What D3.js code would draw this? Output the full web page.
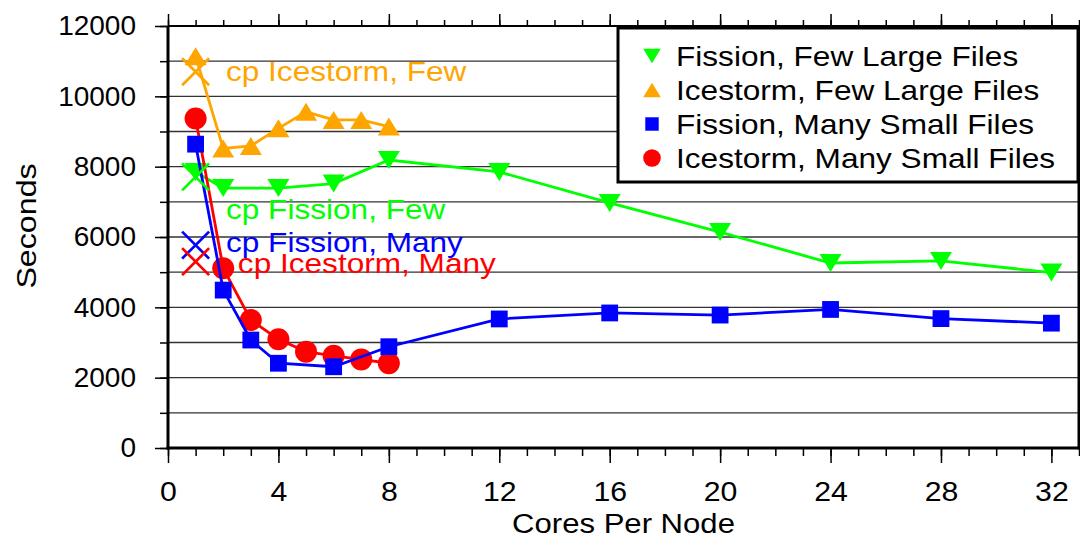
<!DOCTYPE html>
<html>
  <head>
    <title>Cores Per Node</title>
    <script src="https://cdn.jsdelivr.net/npm/d3@7"></script>
    <style type="text/css">
      body {
        margin: 0;
        background: #fff;
      }
      text {
        font-family: "Liberation Sans", Arial, Helvetica, sans-serif;
        fill: #000;
      }
      .grid line {
        stroke: #333;
        stroke-width: 1.4px;
      }
      .axis path {
        display: none;
      }
      .axis line {
        stroke: #000;
        stroke-width: 1.5px;
      }
      .frame {
        stroke: #000;
        fill: none;
      }
      .series path.line {
        fill: none;
        stroke-width: 2.8px;
      }
    </style>
  </head>
<body>
  <div id="chart"></div>
  <script type="text/javascript">
    // measured series (cores per node -> seconds)
    var fissionFewX = [1, 2, 4, 6, 8, 12, 16, 20, 24, 28, 32];
    var fissionFew = [7850, 7390, 7390, 7520, 8190, 7850, 6970, 6140, 5260, 5320, 4990];

    var icestormFewX = [1, 2, 3, 4, 5, 6, 7, 8];
    var icestormFew = [11140, 8520, 8590, 9090, 9560, 9330, 9330, 9140];

    var fissionManyX = [1, 2, 3, 4, 6, 8, 12, 16, 20, 24, 28, 32];
    var fissionMany = [8640, 4490, 3070, 2410, 2310, 2880, 3670, 3840, 3780, 3940, 3680, 3550];

    var icestormManyX = [1, 2, 3, 4, 5, 6, 7, 8];
    var icestormMany = [9370, 5110, 3640, 3090, 2740, 2620, 2520, 2410];

    var seriesNames = ["Fission, Few Large Files", "Icestorm, Few Large Files", "Fission, Many Small Files", "Icestorm, Many Small Files"];
    var seriesColors = ["#00ff00", "#ffa500", "#0000ff", "#ff0000"];
    var seriesSymbols = ["down", "up", "square", "circle"];

    // single cp runs, drawn as crosses at 1 core
    var cpNames = ["cp Icestorm, Few", "cp Fission, Few", "cp Fission, Many", "cp Icestorm, Many"];
    var cpColors = ["#ffa500", "#00ff00", "#0000ff", "#ff0000"];
    var cpX = [1, 1, 1, 1];
    var cpValues = [10700, 7710, 5770, 5300];
    var cpLabelX = [2.1, 2.1, 2.1, 2.53];
    var cpLabelY = [10720, 6800, 5840, 5250];

    var xTicks = [0, 4, 8, 12, 16, 20, 24, 28, 32];
    var yTicks = [0, 2000, 4000, 6000, 8000, 10000, 12000];

    var width = 1080, height = 538;

    var svg = d3.select("#chart").append("svg")
      .attr("width", width)
      .attr("height", height);

    var x = d3.scaleLinear().domain([0, 33]).range([168, 1079]);
    var y = d3.scaleLinear().domain([0, 12000]).range([448, 26]);

    // horizontal grid every 1000
    svg.append("g").attr("class", "grid")
      .selectAll("line").data(d3.range(1000, 12000, 1000))
      .enter().append("line")
      .attr("x1", x(0)).attr("x2", x(33))
      .attr("y1", function (d) { return y(d); })
      .attr("y2", function (d) { return y(d); });

    // axes: major + minor ticks
    var xMinor = d3.range(0, 34, 1);
    var yMinor = d3.range(0, 12001, 1000);

    svg.append("g").attr("class", "axis")
      .attr("transform", "translate(0," + y(0) + ")")
      .call(d3.axisBottom(x).tickValues(xMinor).tickSize(8).tickFormat(""));
    var xAxis = svg.append("g").attr("class", "axis")
      .attr("transform", "translate(0," + y(0) + ")")
      .call(d3.axisBottom(x).tickValues(xTicks).tickSize(15).tickPadding(18).tickFormat(d3.format("d")));
    xAxis.selectAll("text")
      .style("font-size", "28px")
      .attr("dy", "0.71em")
      .attr("transform", "scale(1.08,1)");

    svg.append("g").attr("class", "axis")
      .attr("transform", "translate(0," + y(12000) + ")")
      .call(d3.axisTop(x).tickValues(xMinor).tickSize(6).tickFormat(""));
    svg.append("g").attr("class", "axis")
      .attr("transform", "translate(0," + y(12000) + ")")
      .call(d3.axisTop(x).tickValues(xTicks).tickSize(12).tickFormat(""));

    svg.append("g").attr("class", "axis")
      .attr("transform", "translate(" + x(0) + ",0)")
      .call(d3.axisLeft(y).tickValues(yMinor).tickSize(8).tickFormat(""));
    var yAxis = svg.append("g").attr("class", "axis")
      .attr("transform", "translate(" + x(0) + ",0)")
      .call(d3.axisLeft(y).tickValues(yTicks).tickSize(13).tickPadding(19).tickFormat(d3.format("d")));
    yAxis.selectAll("text").style("font-size", "28px");

    // frame
    svg.append("line").attr("class", "frame").style("stroke-width", 3)
      .attr("x1", x(0)).attr("x2", x(0)).attr("y1", y(12000)).attr("y2", y(0) + 1.5);
    svg.append("line").attr("class", "frame").style("stroke-width", 3)
      .attr("x1", x(0) - 1.5).attr("x2", x(33) + 1.5).attr("y1", y(0)).attr("y2", y(0));
    svg.append("line").attr("class", "frame").style("stroke-width", 3)
      .attr("x1", x(33)).attr("x2", x(33)).attr("y1", y(12000)).attr("y2", y(0) + 1.5);
    svg.append("line").attr("class", "frame").style("stroke-width", 2)
      .attr("x1", x(0)).attr("x2", x(33)).attr("y1", y(12000)).attr("y2", y(12000));

    // axis titles
    svg.append("text")
      .attr("transform", "translate(" + ((x(0) + x(33)) / 2) + ",533) scale(1.11,1)")
      .attr("text-anchor", "middle")
      .style("font-size", "28px")
      .text("Cores Per Node");
    svg.append("text")
      .attr("transform", "translate(36,226) rotate(-90) scale(1.15,1)")
      .attr("text-anchor", "middle")
      .style("font-size", "28px")
      .text("Seconds");

    function markerPath(type, s) {
      var w = s * 1.1, h = s * 0.9;
      if (type === "down") return "M" + (-w / 2) + "," + (-h / 2) + "L" + (w / 2) + "," + (-h / 2) + "L0," + (h / 2) + "Z";
      if (type === "up") return "M" + (-w / 2) + "," + (h / 2) + "L" + (w / 2) + "," + (h / 2) + "L0," + (-h / 2) + "Z";
      if (type === "square") return "M" + (-s * 0.42) + "," + (-s * 0.42) + "h" + (s * 0.84) + "v" + (s * 0.84) + "h" + (-s * 0.84) + "Z";
      var r = s * 0.55;
      return "M" + r + ",0A" + r + "," + r + " 0 1,1 " + (-r) + ",0A" + r + "," + r + " 0 1,1 " + r + ",0Z";
    }

    var seriesX = [fissionFewX, icestormFewX, fissionManyX, icestormManyX];
    var seriesY = [fissionFew, icestormFew, fissionMany, icestormMany];
    // blue ends up on top of red in the original
    var drawOrder = [0, 1, 3, 2];

    var line = d3.line()
      .x(function (d) { return x(d[0]); })
      .y(function (d) { return y(d[1]); });

    drawOrder.forEach(function (i) {
      var pts = d3.zip(seriesX[i], seriesY[i]);
      var g = svg.append("g").attr("class", "series");
      g.append("path").attr("class", "line")
        .attr("d", line(pts))
        .style("stroke", seriesColors[i]);
      g.selectAll("path.pt").data(pts).enter().append("path")
        .attr("class", "pt")
        .attr("transform", function (d) { return "translate(" + x(d[0]) + "," + y(d[1]) + ")"; })
        .attr("d", markerPath(seriesSymbols[i], 20))
        .style("fill", seriesColors[i]);
    });

    // cp crosses and labels
    var cp = svg.append("g");
    cpNames.forEach(function (name, i) {
      var cx = x(cpX[i]), cy = y(cpValues[i]), r = 13.5;
      cp.append("path")
        .attr("d", "M" + (cx - r) + "," + (cy - r) + "L" + (cx + r) + "," + (cy + r) +
          "M" + (cx - r) + "," + (cy + r) + "L" + (cx + r) + "," + (cy - r))
        .style("stroke", cpColors[i])
        .style("stroke-width", 2.7)
        .style("fill", "none");
      cp.append("text")
        .attr("transform", "translate(" + x(cpLabelX[i]) + "," + y(cpLabelY[i]) + ") scale(1.17,1)")
        .attr("dy", "0.36em")
        .style("font-size", "27px")
        .style("fill", cpColors[i])
        .text(name);
    });

    // legend
    var legend = svg.append("g");
    legend.append("rect")
      .attr("x", 618).attr("y", 28)
      .attr("width", 460).attr("height", 154)
      .style("fill", "#fff")
      .style("stroke", "#000")
      .style("stroke-width", 3);
    var rows = legend.selectAll("g.row").data(seriesNames).enter().append("g")
      .attr("class", "row")
      .attr("transform", function (d, i) { return "translate(652," + (56 + i * 34) + ")"; });
    rows.append("path")
      .attr("d", function (d, i) { return markerPath(seriesSymbols[i], 16); })
      .style("fill", function (d, i) { return seriesColors[i]; });
    rows.append("text")
      .attr("transform", "translate(24,0) scale(1.17,1)")
      .attr("dy", "0.36em")
      .style("font-size", "27px")
      .text(function (d) { return d; });
  </script>
</body>
</html>
